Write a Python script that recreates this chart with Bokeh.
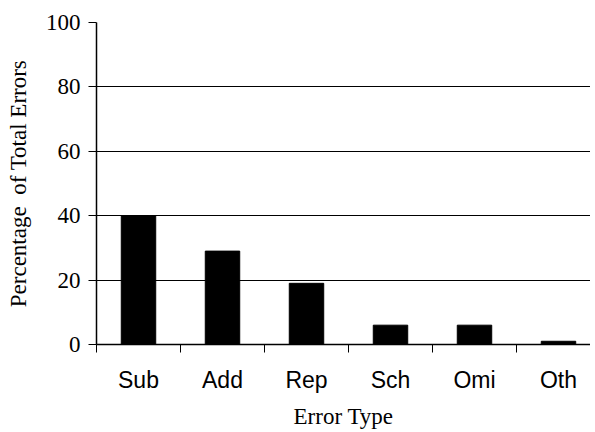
from bokeh.plotting import figure
from bokeh.models import FixedTicker, Range1d, ColumnDataSource, LinearAxis, Grid
from bokeh.embed import file_html
from bokeh.resources import INLINE

categories = ["Sub", "Add", "Rep", "Sch", "Omi", "Oth"]
percentages = [40, 29, 19, 6, 6, 1]
y_ticks = [0, 20, 40, 60, 80, 100]
grid_lines = [20, 40, 60, 80]

centers = [i + 0.5 for i in range(len(categories))]
source = ColumnDataSource(dict(x=centers, top=percentages))

# frame is 494 px wide; each category slot is ~84 px, so the last slot runs past the edge
p = figure(width=590, height=431, output_backend="svg", toolbar_location=None,
           x_range=Range1d(0, 494 / 84), y_range=Range1d(0, 100),
           x_axis_type=None, y_axis_type=None,
           min_border_left=96, min_border_right=0, min_border_top=22, min_border_bottom=85)
p.outline_line_color = None
p.background_fill_color = "white"
p.border_fill_color = "white"

p.vbar(x="x", top="top", width=0.41, bottom=0, source=source,
       fill_color="black", line_color="black")

# x axis: tick marks at category boundaries, labels at centers
xaxis = LinearAxis(ticker=FixedTicker(ticks=centers, minor_ticks=list(range(len(categories) + 1))))
xaxis.major_label_overrides = {c: lab for c, lab in zip(centers, categories)}
xaxis.major_tick_out = 0
xaxis.major_tick_in = 0
xaxis.minor_tick_out = 8
xaxis.minor_tick_in = 0
xaxis.minor_tick_line_color = "black"
xaxis.axis_line_color = "black"
xaxis.axis_line_width = 1.5
xaxis.major_label_text_font = "Liberation Sans"
xaxis.major_label_text_font_size = "23px"
xaxis.major_label_text_color = "black"
xaxis.major_label_standoff = 14
xaxis.axis_label = "Error Type"
xaxis.axis_label_text_font = "Liberation Serif"
xaxis.axis_label_text_font_style = "normal"
xaxis.axis_label_text_font_size = "23px"
xaxis.axis_label_text_color = "black"
xaxis.axis_label_standoff = 8
p.add_layout(xaxis, "below")

yaxis = LinearAxis(ticker=FixedTicker(ticks=y_ticks))
yaxis.major_tick_out = 8
yaxis.major_tick_in = 0
yaxis.minor_tick_line_color = None
yaxis.axis_line_color = "black"
yaxis.axis_line_width = 1.5
yaxis.major_tick_line_color = "black"
yaxis.major_label_text_font = "Liberation Serif"
yaxis.major_label_text_font_size = "23px"
yaxis.major_label_text_color = "black"
yaxis.major_label_standoff = 8
yaxis.axis_label = "Percentage\u00a0\u00a0of Total Errors"
yaxis.axis_label_text_font = "Liberation Serif"
yaxis.axis_label_text_font_style = "normal"
yaxis.axis_label_text_font_size = "23px"
yaxis.axis_label_text_color = "black"
yaxis.axis_label_standoff = 12
p.add_layout(yaxis, "left")

g = Grid(dimension=1, ticker=FixedTicker(ticks=grid_lines), grid_line_color="black", grid_line_width=1.2)
p.add_layout(g, "center")

open("out.html", "w").write(file_html(p, INLINE))
